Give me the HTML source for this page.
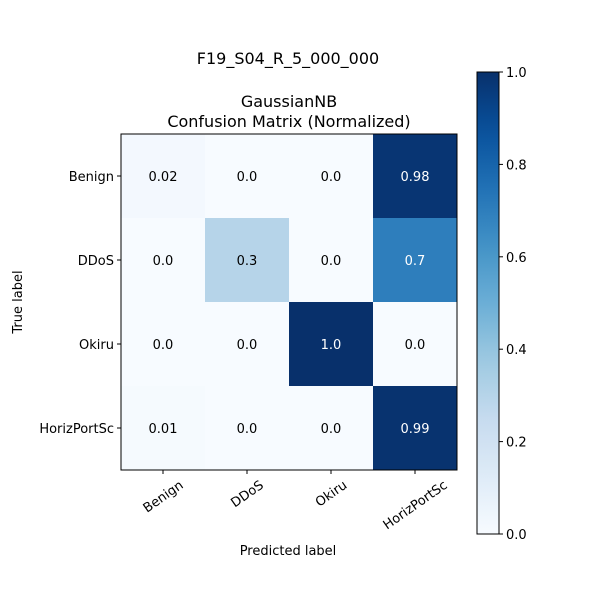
<!DOCTYPE html>
<html><head><meta charset="utf-8"><style>
body{margin:0;background:#fff}
svg{display:block;font-family:"DejaVu Sans","Liberation Sans",sans-serif}
</style></head><body>
<svg id="c" width="600" height="600" viewBox="0 0 600 600">
<text x="288" y="64" font-size="16" text-anchor="middle">F19_S04_R_5_000_000</text>
<text x="289" y="107" font-size="16" text-anchor="middle">GaussianNB</text>
<text x="289" y="127" font-size="16" text-anchor="middle">Confusion Matrix (Normalized)</text>
<text x="288" y="555" font-size="13" text-anchor="middle">Predicted label</text>
<text transform="translate(22,302) rotate(-90)" font-size="13" text-anchor="middle">True label</text>
<defs><linearGradient id="g" x1="0" y1="1" x2="0" y2="0"></linearGradient></defs>
<g id="cells"></g><g id="cb"></g>
</svg>
<script>
const labels=["Benign","DDoS","Okiru","HorizPortSc"];
const matrix=[[0.02,0.0,0.0,0.98],[0.0,0.3,0.0,0.7],[0.0,0.0,1.0,0.0],[0.01,0.0,0.0,0.99]];
const printed=[["0.02","0.0","0.0","0.98"],["0.0","0.3","0.0","0.7"],["0.0","0.0","1.0","0.0"],["0.01","0.0","0.0","0.99"]];
const cbTicks=[0,0.2,0.4,0.6,0.8,1.0];
const cbTickLabels=["0.0","0.2","0.4","0.6","0.8","1.0"];
const NS="http://www.w3.org/2000/svg";
const stops=["#f7fbff","#deebf7","#c6dbef","#9ecae1","#6baed6","#4292c6","#2171b5","#08519c","#08306b"];
function blues(v){v=Math.max(0,Math.min(1,v));const p=v*8,i=Math.min(7,Math.floor(p)),t=p-i;
const a=stops[i],b=stops[i+1];const c=k=>Math.round(parseInt(a.substr(k,2),16)*(1-t)+parseInt(b.substr(k,2),16)*t);
return `rgb(${c(1)},${c(3)},${c(5)})`;}
const X0=121,Y0=134,S=336,n=labels.length,cw=S/n;
const xs=j=>X0+cw*(j+0.5), ys=i=>Y0+cw*(i+0.5);
function mk(tag,attrs,parent){const e=document.createElementNS(NS,tag);for(const k in attrs)e.setAttribute(k,attrs[k]);parent.appendChild(e);return e;}
const g=document.getElementById('cells');
matrix.forEach((row,i)=>row.forEach((v,j)=>{
 const r=mk('rect',{x:X0+cw*j,y:Y0+cw*i,width:cw+0.5,height:cw+0.5,fill:blues(v)},g);
 
 
 const t=mk('text',{x:xs(j),y:ys(i)+5,'font-size':13,'text-anchor':'middle',fill:v>0.5?'#fff':'#000'},g);
 t.textContent=printed[i][j];
 
 
}));
const fr=mk('rect',{x:X0,y:Y0,width:S,height:S,fill:'none',stroke:'#000','stroke-width':1},g);


labels.forEach((l,k)=>{
 mk('line',{x1:xs(k),x2:xs(k),y1:Y0+S,y2:Y0+S+4,stroke:'#000'},g);
 mk('line',{x1:X0-4,x2:X0,y1:ys(k),y2:ys(k),stroke:'#000'},g);
 const yl=mk('text',{x:X0-7,y:ys(k)+5,'font-size':13,'text-anchor':'end'},g);
 yl.textContent=l;
 
 
 const xl=mk('text',{'font-size':13,'text-anchor':'middle'},g);
 xl.textContent=l;
 const w=xl.getComputedTextLength();
 const h=w*Math.sin(35*Math.PI/180)+13*Math.cos(35*Math.PI/180);
 const cy=Y0+S+8+h/2;
 xl.setAttribute('transform',`translate(${xs(k)},${cy}) rotate(-35) translate(0,4.5)`);
 
 
});
const grad=document.getElementById('g');
for(let s=0;s<=20;s++){mk('stop',{offset:s/20,'stop-color':blues(s/20)},grad);}
const cb=document.getElementById('cb');
const CX=477,CY=72,CW=22,CH=462;
const cbY=v=>CY+CH*(1-v);
const cr=mk('rect',{x:CX,y:CY,width:CW,height:CH,fill:'url(#g)',stroke:'#000','stroke-width':1},cb);


cbTicks.forEach((v,k)=>{
 mk('line',{x1:CX+CW,x2:CX+CW+4,y1:cbY(v),y2:cbY(v),stroke:'#000'},cb);
 const t=mk('text',{x:CX+CW+7,y:cbY(v)+5,'font-size':13},cb);
 t.textContent=cbTickLabels[k];
 
 
});
</script>
</body></html>
